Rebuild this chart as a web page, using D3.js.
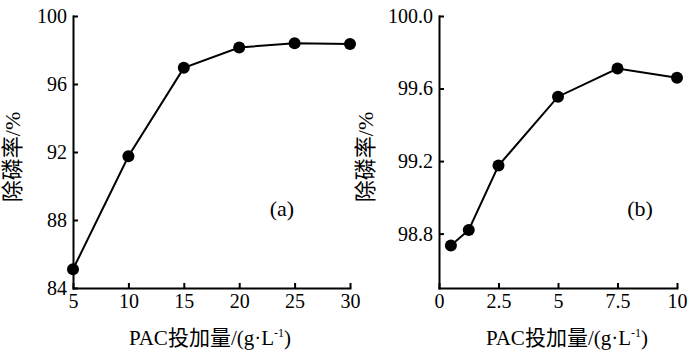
<!DOCTYPE html>
<html>
<head>
<meta charset="utf-8">
<script src="https://cdn.jsdelivr.net/npm/d3@7"></script>
<style>
  body { margin: 0; background: #fff; }
  svg text { font-family: "Liberation Serif", "Noto Sans CJK SC", serif; fill: #000; }
  .axis path, .axis line { stroke: #000; stroke-width: 2; }
  .axis text { font-size: 20px; }
</style>
</head>
<body>
<svg id="chart" width="700" height="350"></svg>
<script>
// panel (a)
const doseA = [5, 10, 15, 20, 25, 30];
const removalA = [85.1, 91.75, 96.95, 98.15, 98.4, 98.35];
const xTicksA = [5, 10, 15, 20, 25, 30];
const yTicksA = [84, 88, 92, 96, 100];

// panel (b)
const doseB = [0.5, 1.25, 2.5, 5, 7.5, 10];
const removalB = [98.735, 98.82, 99.175, 99.555, 99.71, 99.66];
const xTicksB = [0, 2.5, 5, 7.5, 10];
const yTicksB = [98.8, 99.2, 99.6, 100.0];

const serif = '"Liberation Serif", "Noto Sans CJK SC", serif';
const svg = d3.select("#chart");

function panel(xs, ys, opt) {
    const xScale = d3.scaleLinear().domain(opt.xDomain).range([opt.left, opt.right]);
    const yScale = d3.scaleLinear().domain(opt.yDomain).range([288, 16]);
    const g = svg.append("g");

    // x axis, ticks inside
    g.append("g").attr("class", "axis")
        .attr("transform", `translate(0,${yScale.range()[0]})`)
        .call(d3.axisBottom(xScale).tickValues(opt.xTicks).tickSizeInner(-5).tickSizeOuter(0).tickPadding(6).tickFormat(d3.format("")))
        .attr("font-family", serif).attr("font-size", 20);
    // y axis, ticks inside
    g.append("g").attr("class", "axis")
        .attr("transform", `translate(${opt.left},0)`)
        .call(d3.axisLeft(yScale).tickValues(opt.yTicks).tickSizeInner(-5).tickSizeOuter(0).tickPadding(6).tickFormat(opt.yFormat))
        .attr("font-family", serif).attr("font-size", 20);
    g.selectAll(".axis .domain").attr("stroke-linecap", "square");

    const pts = xs.map((x, i) => ({x: x, y: ys[i]}));
    g.append("path")
        .datum(pts)
        .attr("fill", "none")
        .attr("stroke", "#000")
        .attr("stroke-width", 2)
        .attr("d", d3.line().x(d => xScale(d.x)).y(d => yScale(d.y)));
    g.selectAll(".pt")
        .data(pts)
        .join("circle")
        .attr("cx", d => xScale(d.x))
        .attr("cy", d => yScale(d.y))
        .attr("r", 6)
        .attr("fill", "#000");

    // x label
    const xl = g.append("text")
        .attr("x", opt.xLabelX)
        .attr("y", 345)
        .attr("text-anchor", "middle")
        .attr("font-size", 21);
    xl.append("tspan").text("PAC投加量/(g·L");
    xl.append("tspan").attr("dy", -8).attr("font-size", 12).text("-1");
    xl.append("tspan").attr("dy", 8).text(")");

    // y label
    g.append("text")
        .attr("transform", `translate(${opt.yLabelX},157) rotate(-90)`)
        .attr("text-anchor", "middle")
        .attr("dominant-baseline", "central")
        .attr("font-size", 22)
        .text("除磷率/%");

    // panel tag
    g.append("text")
        .attr("x", opt.tagX)
        .attr("y", 216)
        .attr("text-anchor", "middle")
        .attr("font-size", 22)
        .text(opt.tag);
}

panel(doseA, removalA, {
    xDomain: [5, 30], yDomain: [84, 100], left: 73, right: 350,
    xTicks: xTicksA, yTicks: yTicksA, yFormat: d3.format("d"),
    xLabelX: 210, yLabelX: 12, tag: "(a)", tagX: 282
});
panel(doseB, removalB, {
    xDomain: [0, 10], yDomain: [98.5, 100], left: 439, right: 677,
    xTicks: xTicksB, yTicks: yTicksB, yFormat: d3.format(".1f"),
    xLabelX: 567, yLabelX: 365, tag: "(b)", tagX: 640
});
</script>
</body>
</html>
